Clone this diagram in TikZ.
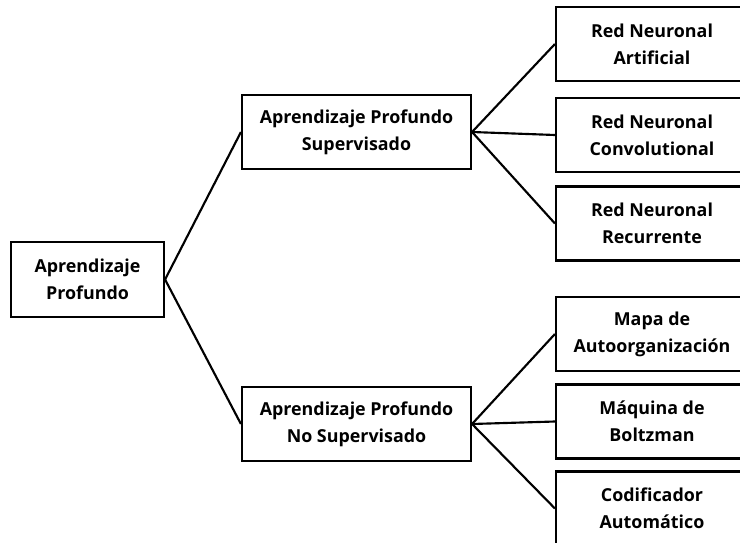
\documentclass[tikz,border=0pt]{standalone}
\usepackage{fontspec}
\setmainfont{Open Sans}[Ligatures=NoCommon]
\begin{document}
\begin{tikzpicture}[x=0.75pt,y=-0.75pt,
  box/.style={draw=black, line width=1.6pt, fill=white, inner sep=0pt,
    align=center, font=\fontsize{13.4}{20.3}\selectfont\bfseries},
  rootbox/.style={box, minimum width={153*0.75pt}, minimum height={75*0.75pt}},
  midbox/.style={box, minimum width={229*0.75pt}, minimum height={74*0.75pt}},
  leafbox/.style={box, minimum width={192*0.75pt}, minimum height={74*0.75pt}},
  link/.style={draw=black, line width=1.6pt}]
  \useasboundingbox (0,0) rectangle (740,543);
  \clip (0,0) rectangle (740,543);

  % nodes
  \node[rootbox] (root) at (87.5,279.5) {Aprendizaje\\Profundo};
  \node[midbox] (sup) at (356.5,132) {Aprendizaje Profundo\\Supervisado};
  \node[midbox] (uns) at (356.5,424) {Aprendizaje Profundo\\No Supervisado};

  \node[leafbox] (r1) at (652,44) {Red Neuronal\\Artificial};
  \node[leafbox] (r2) at (652,135) {Red Neuronal\\Convolutional};
  \node[leafbox] (r3) at (652,223.5) {Red Neuronal\\Recurrente};
  \node[leafbox] (u1) at (652,334) {Mapa de\\Autoorganización};
  \node[leafbox] (u2) at (652,421.5) {Máquina de\\Boltzman};
  \node[leafbox] (u3) at (652,508.5) {Codificador\\Automático};

  % tree branches
  \draw[link] (root.east) -- (sup.west);
  \draw[link] (root.east) -- (uns.west);
  \draw[link] (sup.east) -- (r1.west);
  \draw[link] (sup.east) -- (r2.west);
  \draw[link] (sup.east) -- (r3.west);
  \draw[link] (uns.east) -- (u1.west);
  \draw[link] (uns.east) -- (u2.west);
  \draw[link] (uns.east) -- (u3.west);
\end{tikzpicture}
\end{document}
